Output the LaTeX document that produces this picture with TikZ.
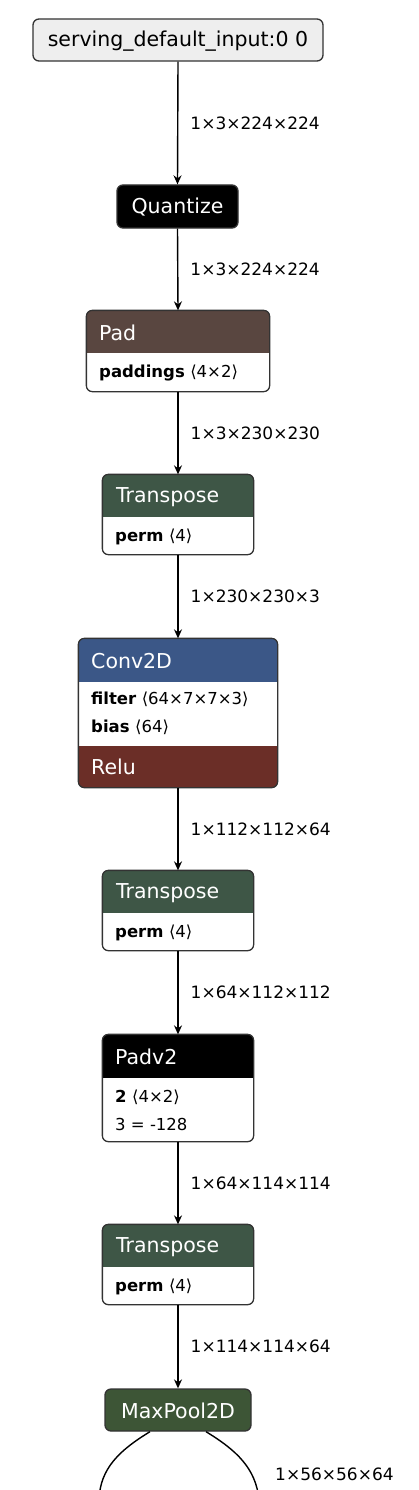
\documentclass[tikz,border=0pt]{standalone}
\usepackage{fontspec}
\setmainfont{DejaVu Sans}
\usetikzlibrary{arrows.meta,calc}
\definecolor{inputgray}{HTML}{EEEEEE}
\definecolor{bordergray}{HTML}{333333}
\definecolor{padbrown}{HTML}{594640}
\definecolor{transgreen}{HTML}{3E5646}
\definecolor{convblue}{HTML}{3B5787}
\definecolor{reludark}{HTML}{6B2E27}
\definecolor{poolgreen}{HTML}{3D5536}
\tikzset{
  opbox/.style={rectangle, rounded corners=6pt, line width=1.3pt, draw=bordergray, inner sep=0pt},
  boxborder/.style={rounded corners=6pt, line width=1.3pt, draw=bordergray},
  headtxt/.style={anchor=west, text=white, font=\fontsize{20.5}{22}\selectfont, inner sep=0pt},
  bodytxt/.style={anchor=west, text=black, font=\fontsize{16.5}{19}\selectfont, inner sep=0pt},
  edgelbl/.style={anchor=west, text=black, font=\fontsize{17}{20}\selectfont, inner sep=0pt},
  conn/.style={line width=1.4pt, -{Stealth[length=9pt,width=8pt,inset=3pt]}},
}
\newcommand{\headfill}[3]{% node, color, header height
  \begin{scope}
    \clip[rounded corners=6pt] (#1.north west) rectangle (#1.south east);
    \fill[#2] (#1.north west) rectangle ($(#1.north east)+(0,#3)$);
  \end{scope}
  \draw[boxborder] (#1.north west) rectangle (#1.south east);
}
\begin{document}
\begin{tikzpicture}[x=1pt,y=-1pt]
\useasboundingbox (0,0) rectangle (418,1490);

% input
\node[opbox, fill=inputgray, minimum width=290pt, minimum height=42pt] (inp) at (178,40) {};
\node[anchor=center, font=\fontsize{20.5}{22}\selectfont, inner sep=0pt] (inpt) at (178,41) {serving\_default\_input:0 0};

% quantize
\node[opbox, fill=black, minimum width=121pt, minimum height=43pt] (quant) at (177.5,206.5) {};
\node[headtxt, anchor=center] (quantt) at (177.5,207.5) {Quantize};

% pad
\node[opbox, draw=none, fill=white, minimum width=182pt, minimum height=80pt] (pad) at (178,351) {};
\headfill{pad}{padbrown}{43}
\node[headtxt] (padt) at (99,333) {Pad};
\node[bodytxt] (padb) at (99,373) {\textbf{paddings}\,\,⟨4×2⟩};

% transpose 1
\node[opbox, draw=none, fill=white, minimum width=150pt, minimum height=79pt] (tr1) at (178,514.5) {};
\headfill{tr1}{transgreen}{43}
\node[headtxt] (tr1t) at (116,497) {Transpose};
\node[bodytxt] (tr1b) at (115,537) {\textbf{perm}\,\,⟨4⟩};

% conv2d
\node[opbox, draw=none, fill=white, minimum width=198pt, minimum height=148pt] (conv) at (178,713) {};
\begin{scope}
  \clip[rounded corners=6pt] (conv.north west) rectangle (conv.south east);
  \fill[convblue] (conv.north west) rectangle ($(conv.north east)+(0,44)$);
  \fill[reludark] ($(conv.south west)+(0,-42)$) rectangle (conv.south east);
\end{scope}
\draw[boxborder] (conv.north west) rectangle (conv.south east);
\node[headtxt] (convt) at (91,661) {Conv2D};
\node[bodytxt] (convb1) at (91,699) {\textbf{filter}\,\,⟨64×7×7×3⟩};
\node[bodytxt] (convb2) at (91,727) {\textbf{bias}\,\,⟨64⟩};
\node[headtxt] (relut) at (91,767) {Relu};

% transpose 2
\node[opbox, draw=none, fill=white, minimum width=150pt, minimum height=79pt] (tr2) at (178,910.5) {};
\headfill{tr2}{transgreen}{43}
\node[headtxt] (tr2t) at (116,893) {Transpose};
\node[bodytxt] (tr2b) at (115,933) {\textbf{perm}\,\,⟨4⟩};

% padv2
\node[opbox, draw=none, fill=white, minimum width=150pt, minimum height=106pt] (padv) at (178,1088) {};
\headfill{padv}{black}{44}
\node[headtxt] (padvt) at (115,1057) {Padv2};
\node[bodytxt] (padvb1) at (115,1097) {\textbf{2}\,\,⟨4×2⟩};
\node[bodytxt] (padvb2) at (115,1124) {3 = -128};

% transpose 3
\node[opbox, draw=none, fill=white, minimum width=150pt, minimum height=79pt] (tr3) at (178,1264.5) {};
\headfill{tr3}{transgreen}{43}
\node[headtxt] (tr3t) at (116,1247) {Transpose};
\node[bodytxt] (tr3b) at (115,1287) {\textbf{perm}\,\,⟨4⟩};

% maxpool
\node[opbox, fill=poolgreen, minimum width=146pt, minimum height=42pt] (pool) at (178,1410) {};
\node[headtxt, anchor=center] (poolt) at (178,1411) {MaxPool2D};

% connectors
\draw[conn] (inp.south) -- (quant.north) node[edgelbl, pos=0.5, xshift=12pt] {1×3×224×224};
\draw[conn] (quant.south) -- (pad.north) node[edgelbl, pos=0.5, xshift=12pt] {1×3×224×224};
\draw[conn] (pad.south) -- (tr1.north) node[edgelbl, pos=0.5, xshift=12pt] {1×3×230×230};
\draw[conn] (tr1.south) -- (conv.north) node[edgelbl, pos=0.5, xshift=12pt] {1×230×230×3};
\draw[conn] (conv.south) -- (tr2.north) node[edgelbl, pos=0.5, xshift=12pt] {1×112×112×64};
\draw[conn] (tr2.south) -- (padv.north) node[edgelbl, pos=0.5, xshift=12pt] {1×64×112×112};
\draw[conn] (padv.south) -- (tr3.north) node[edgelbl, pos=0.5, xshift=12pt] {1×64×114×114};
\draw[conn] (tr3.south) -- (pool.north) node[edgelbl, pos=0.5, xshift=12pt] {1×114×114×64};

\coordinate (lend) at (99,1500);
\coordinate (rend) at (259,1500);
\draw[line width=1.4pt] ($(pool.south)+(-28,0)$) .. controls (120,1450) and (100,1468) .. (lend);
\draw[line width=1.4pt] ($(pool.south)+(28,0)$) .. controls (236,1450) and (256,1468) .. (rend);
\node[edgelbl] (lbl9) at (275,1474) {1×56×56×64};
\end{tikzpicture}
\end{document}
